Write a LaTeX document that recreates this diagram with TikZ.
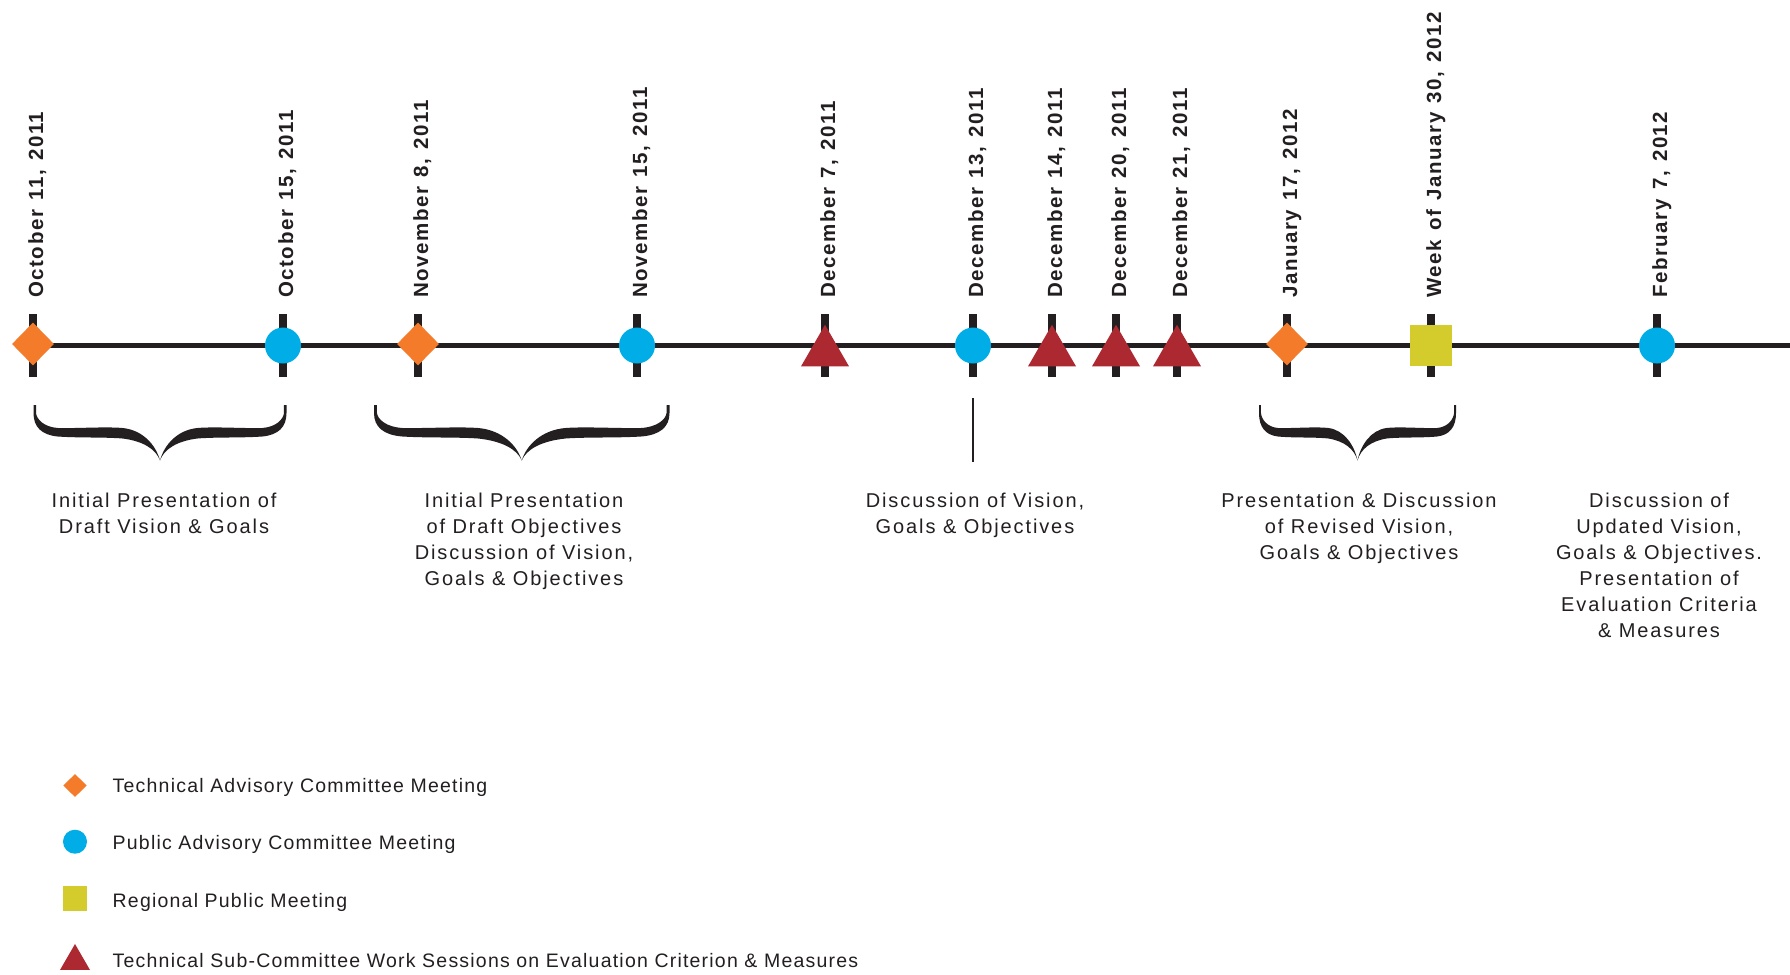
\documentclass[tikz,border=0pt]{standalone}
\usepackage{fontspec}
\setmainfont{Liberation Sans}
\newfontfamily\datefamily[LetterSpace=7.5, WordSpace=1.3]{Liberation Sans}
\newfontfamily\lblfamily[LetterSpace=9.5]{Liberation Sans}
\newfontfamily\legfamily[LetterSpace=6.2]{Liberation Sans}
\usetikzlibrary{shapes.geometric}
\definecolor{ink}{HTML}{231F20}
\definecolor{tacorange}{HTML}{F47B2A}
\definecolor{pacblue}{HTML}{00ADE6}
\definecolor{rpmyellow}{HTML}{D3CC2C}
\definecolor{tscred}{HTML}{AD2932}
\tikzset{
  tickbar/.style={rectangle, fill=ink, minimum width=7.5pt, minimum height=63pt, inner sep=0pt, outer sep=0pt},
  timeline/.style={draw=ink, line width=5.5pt},
  tacmark/.style={diamond, fill=tacorange, minimum width=42pt, minimum height=43pt, inner sep=0pt},
  pacmark/.style={circle, fill=pacblue, minimum size=36pt, inner sep=0pt},
  rpmmark/.style={rectangle, fill=rpmyellow, minimum width=42pt, minimum height=41pt, inner sep=0pt},
  tscmark/.style={regular polygon, regular polygon sides=3, fill=tscred, minimum size=55.4pt, inner sep=0pt},
  legtac/.style={diamond, fill=tacorange, minimum width=23.5pt, minimum height=23pt, inner sep=0pt},
  legpac/.style={circle, fill=pacblue, minimum size=24pt, inner sep=0pt},
  legrpm/.style={rectangle, fill=rpmyellow, minimum width=24pt, minimum height=25pt, inner sep=0pt},
  legtsc/.style={regular polygon, regular polygon sides=3, fill=tscred, minimum size=34.6pt, inner sep=0pt},
  datelbl/.style={rotate=90, anchor=base west, inner sep=0pt, text=ink, font=\datefamily\bfseries\fontsize{20.5}{24}\selectfont},
  desclbl/.style={anchor=north, align=center, inner sep=0pt, text=ink, font=\lblfamily\fontsize{20}{26}\selectfont},
  legtext/.style={anchor=base west, inner sep=0pt, text=ink, font=\legfamily\fontsize{19.5}{24}\selectfont},
  pointer/.style={draw=ink, line width=2pt}
}
\newcommand\tlbrace[2]{%
  \begin{scope}[shift={(#1,405)}, xscale=#2]
    \fill[ink] (0,0) -- (0,8) .. controls (0,22) and (8,30) .. (24,31.5)
      .. controls (45,33) and (70,32) .. (88,33.5)
      .. controls (108,36) and (121,44) .. (125,55.5)
      .. controls (121,40) and (108,25) .. (88,23)
      .. controls (70,21.5) and (45,23.5) .. (24,23)
      .. controls (10,22) and (3,14) .. (2.5,8) -- (2.5,0) -- cycle;
    \fill[ink] (250,0) -- (250,8) .. controls (250,22) and (242,30) .. (226,31.5)
      .. controls (205,33) and (180,32) .. (162,33.5)
      .. controls (142,36) and (129,44) .. (125,55.5)
      .. controls (129,40) and (142,25) .. (162,23)
      .. controls (180,21.5) and (205,23.5) .. (226,23)
      .. controls (240,22) and (247,14) .. (247.5,8) -- (247.5,0) -- cycle;
  \end{scope}}
\begin{document}
\begin{tikzpicture}[x=1pt, y=-1pt]
  \useasboundingbox (0,0) rectangle (1790,974);
  \fill[white] (0,0) rectangle (1790,974);

  % ticks
  \node[tickbar] (t1) at (33,345.5) {};
  \node[tickbar] (t2) at (283,345.5) {};
  \node[tickbar] (t3) at (418,345.5) {};
  \node[tickbar] (t4) at (637,345.5) {};
  \node[tickbar] (t5) at (825,345.5) {};
  \node[tickbar] (t6) at (973,345.5) {};
  \node[tickbar] (t7) at (1052,345.5) {};
  \node[tickbar] (t8) at (1116,345.5) {};
  \node[tickbar] (t9) at (1177,345.5) {};
  \node[tickbar] (t10) at (1287,345.5) {};
  \node[tickbar] (t11) at (1431,345.5) {};
  \node[tickbar] (t12) at (1657,345.5) {};
  \coordinate (lineend) at (1790,345.5);
  \draw[timeline] (t1.center) -- (lineend);

  % markers
  \node[tacmark] (m1) at (33,344) {};
  \node[pacmark] (m2) at (283,345.5) {};
  \node[tacmark] (m3) at (418,344) {};
  \node[pacmark] (m4) at (637,345.5) {};
  \node[tscmark] (m5) at (825,352.5) {};
  \node[pacmark] (m6) at (973,345.5) {};
  \node[tscmark] (m7) at (1052,352.5) {};
  \node[tscmark] (m8) at (1116,352.5) {};
  \node[tscmark] (m9) at (1177,352.5) {};
  \node[tacmark] (m10) at (1287,344) {};
  \node[rpmmark] (m11) at (1431,345.5) {};
  \node[pacmark] (m12) at (1657,345.5) {};

  % dates
  \node[datelbl] (d1) at (43,298) {October 11, 2011};
  \node[datelbl] (d2) at (293,298) {October 15, 2011};
  \node[datelbl] (d3) at (428,298) {November 8, 2011};
  \node[datelbl] (d4) at (647,298) {November 15, 2011};
  \node[datelbl] (d5) at (835,298) {December 7, 2011};
  \node[datelbl] (d6) at (983,298) {December 13, 2011};
  \node[datelbl] (d7) at (1062,298) {December 14, 2011};
  \node[datelbl] (d8) at (1126,298) {December 20, 2011};
  \node[datelbl] (d9) at (1187,298) {December 21, 2011};
  \node[datelbl] (d10) at (1297,298) {January 17, 2012};
  \node[datelbl] (d11) at (1441,298) {Week of January 30, 2012};
  \node[datelbl] (d12) at (1667,298) {February 7, 2012};

  % braces and pointer
  \tlbrace{33.5}{1.012}
  \tlbrace{374}{1.182}
  \tlbrace{1259}{0.788}
  \coordinate (ptop) at (973,398);
  \coordinate (pbot) at (973,461.7);
  \draw[pointer] (ptop) -- (pbot);

  % descriptions
  \node[desclbl] (l1) at (164,492.5) {Initial Presentation of\\Draft Vision \& Goals};
  \node[desclbl] (l2) at (524,492.5) {Initial Presentation\\of Draft Objectives\\Discussion of Vision,\\Goals \& Objectives};
  \node[desclbl] (l3) at (975,492.5) {Discussion of Vision,\\Goals \& Objectives};
  \node[desclbl] (l4) at (1359,492.5) {Presentation \& Discussion\\of Revised Vision,\\Goals \& Objectives};
  \node[desclbl] (l5) at (1659,492.5) {Discussion of\\Updated Vision,\\Goals \& Objectives.\\Presentation of\\Evaluation Criteria\\\& Measures};

  % legend
  \node[legtac] (k1) at (75,785.5) {};
  \node[legpac] (k2) at (75,841.7) {};
  \node[legrpm] (k3) at (75,898.5) {};
  \node[legtsc] (k4) at (75,961.3) {};
  \node[legtext] (k1t) at (112.5,792.3) {Technical Advisory Committee Meeting};
  \node[legtext] (k2t) at (112.5,849.5) {Public Advisory Committee Meeting};
  \node[legtext] (k3t) at (112.5,907) {Regional Public Meeting};
  \node[legtext] (k4t) at (112.5,967) {Technical Sub-Committee Work Sessions on Evaluation Criterion \& Measures};
\end{tikzpicture}
\end{document}
